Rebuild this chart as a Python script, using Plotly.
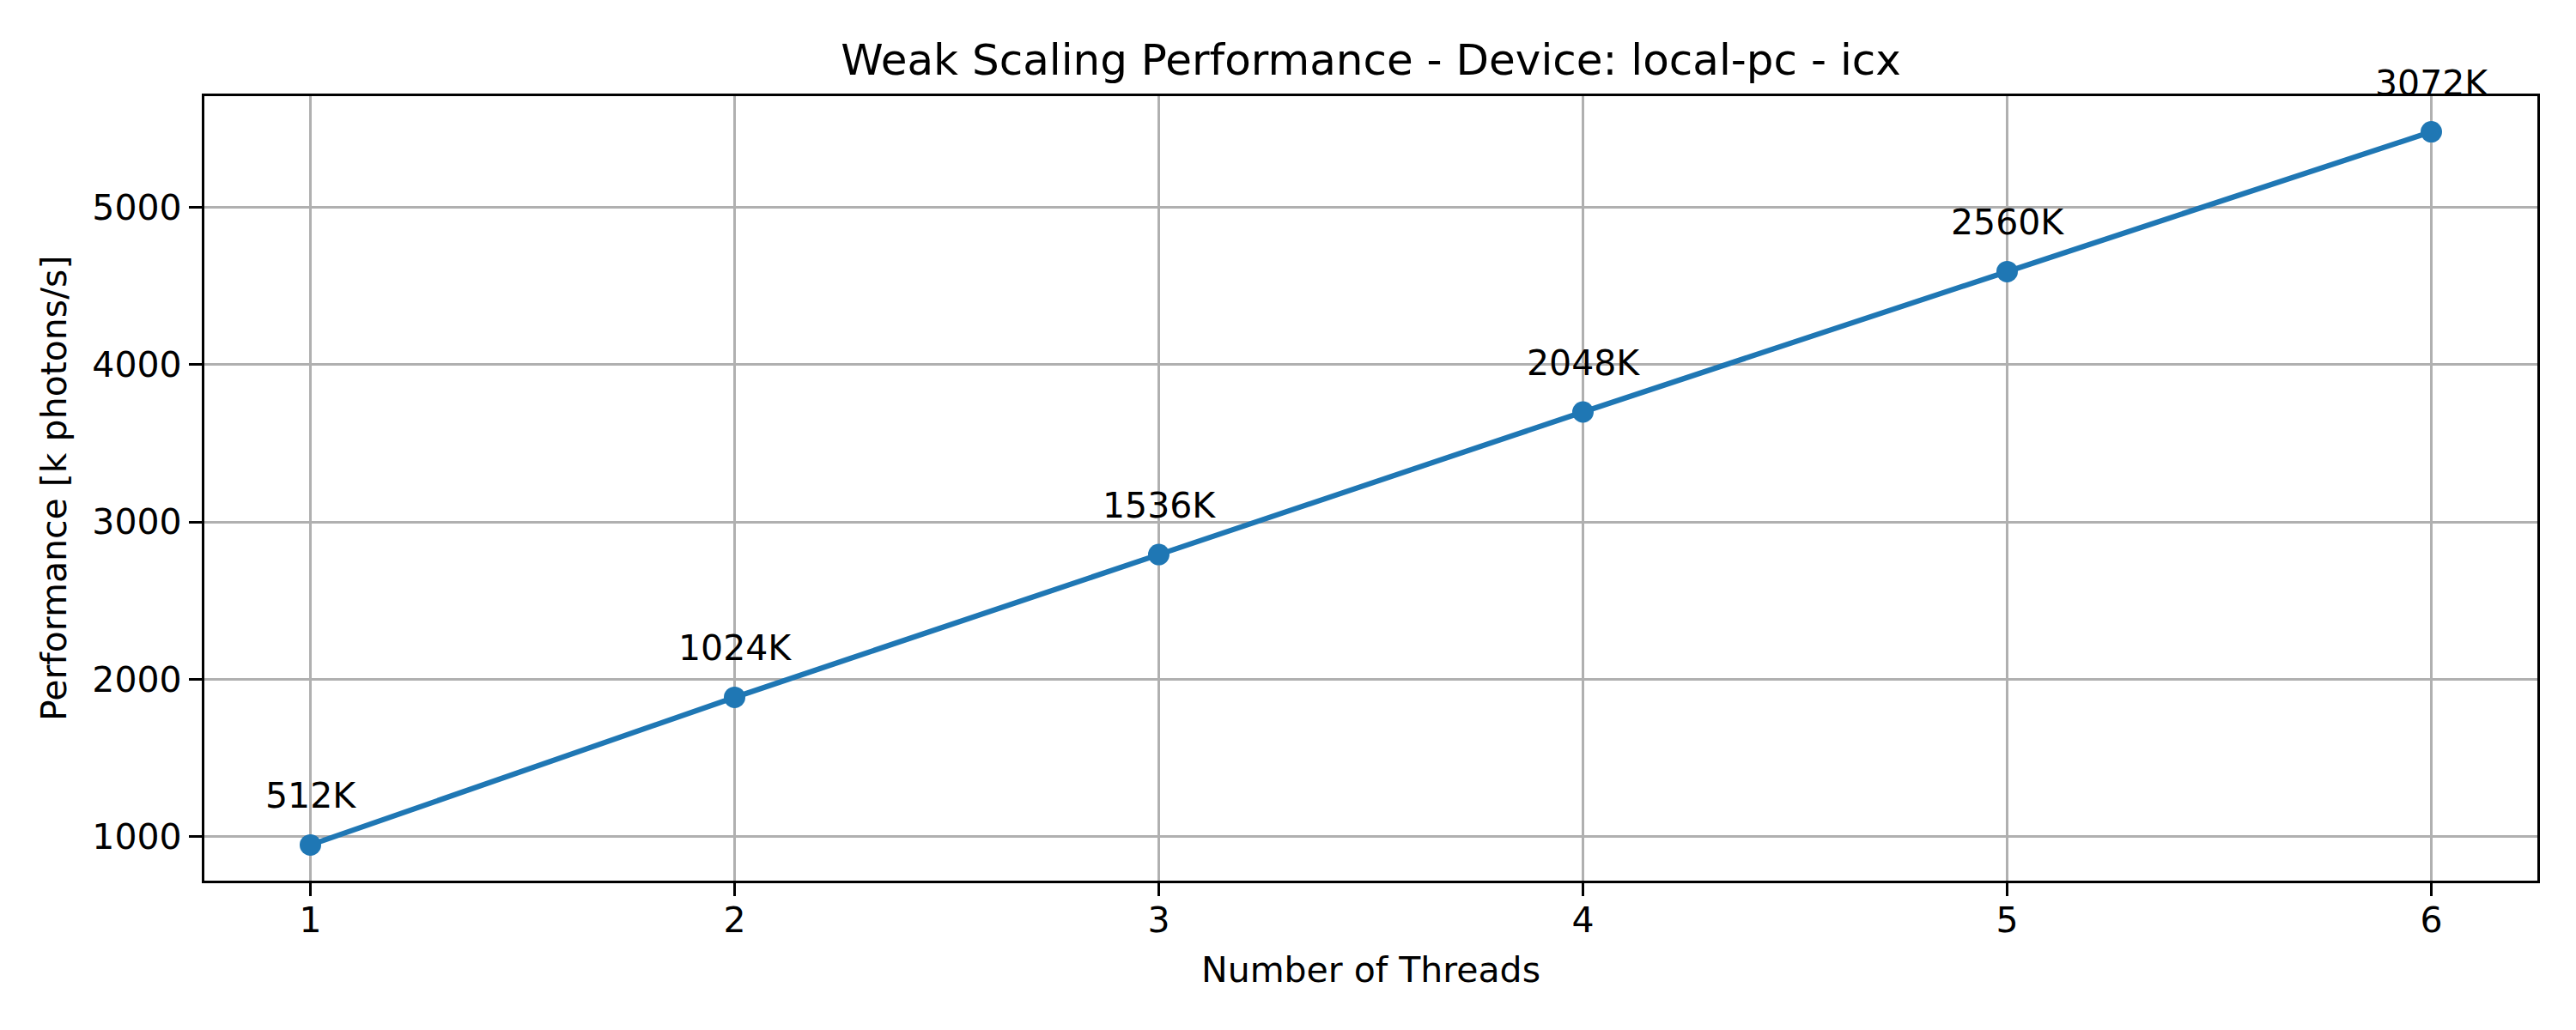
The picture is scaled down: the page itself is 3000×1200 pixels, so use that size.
import plotly.graph_objects as go

threads = [1, 2, 3, 4, 5, 6]
performance = [945, 1884, 2792, 3699, 4592, 5481]
labels = ["512K", "1024K", "1536K", "2048K", "2560K", "3072K"]

FONT = "DejaVu Sans"
BLUE = "#1f77b4"

fig = go.Figure()
fig.add_trace(go.Scatter(
    x=threads, y=performance, mode="lines+markers",
    line=dict(color=BLUE, width=6.25),
    marker=dict(color=BLUE, size=25),
    showlegend=False,
))

for xv, yv, lab in zip(threads, performance, labels):
    fig.add_annotation(x=xv, y=yv, text=lab, showarrow=False,
                       xanchor="center", yanchor="bottom", yshift=31,
                       font=dict(family=FONT, size=41, color="black"))

fig.add_annotation(xref="paper", yref="paper", x=0.5, y=0, yanchor="middle",
                   yshift=-104, text="Number of Threads", showarrow=False,
                   font=dict(family=FONT, size=41, color="black"))
fig.add_annotation(xref="paper", yref="paper", x=0, y=0.5, xanchor="center",
                   xshift=-175, textangle=-90, text="Performance [k photons/s]",
                   showarrow=False, font=dict(family=FONT, size=41, color="black"))

axis_common = dict(
    showline=True, linecolor="black", linewidth=3.3, mirror=True,
    showgrid=True, gridcolor="#b0b0b0", gridwidth=3.3,
    ticks="outside", ticklen=15, tickwidth=3.3, tickcolor="black",
    tickfont=dict(family=FONT, size=41, color="black"),
    zeroline=False,
)

fig.update_layout(
    width=3000, height=1200,
    margin=dict(l=238, r=45, t=112, b=174),
    paper_bgcolor="white", plot_bgcolor="white",
    title=dict(text="Weak Scaling Performance - Device: local-pc - icx",
               x=0.5, xref="paper", y=1 - 69 / 1200, yref="container",
               yanchor="middle", xanchor="center",
               font=dict(family=FONT, size=50, color="black")),
    xaxis=dict(range=[0.75, 6.25], tickvals=threads, ticklabelstandoff=-7, **axis_common),
    yaxis=dict(range=[718, 5708], tickvals=[1000, 2000, 3000, 4000, 5000], **axis_common),
)

fig.write_html("out.html", config={"displayModeBar": False},
               post_script="document.body.style.margin='0';")
